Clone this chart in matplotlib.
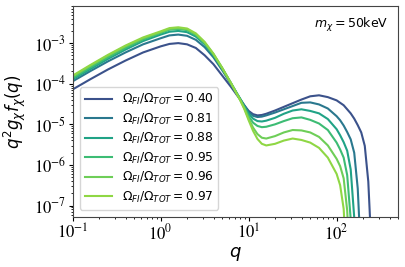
import numpy as np
import matplotlib
matplotlib.use("Agg")
import matplotlib.pyplot as plt
from matplotlib.ticker import LogLocator, NullFormatter

# log10(q) sampling grid
log_q = [-1.0, -0.8, -0.6, -0.4, -0.2, 0.0, 0.1, 0.2, 0.3, 0.4, 0.5, 0.6, 0.7,
         0.8, 0.9, 0.95, 1.0, 1.05, 1.1, 1.15, 1.2, 1.3, 1.4, 1.5, 1.6, 1.7,
         1.8, 1.9, 2.0, 2.04, 2.08, 2.12, 2.16, 2.2, 2.24, 2.28, 2.32, 2.36,
         2.40, 2.44]

# log10(q^2 g f) for each curve
log_f_040 = [-4.14, -3.89, -3.65, -3.43, -3.23, -3.08, -3.02, -3.00, -3.03, -3.12,
             -3.30, -3.52, -3.80, -4.08, -4.38, -4.53, -4.67, -4.75, -4.78, -4.77,
             -4.74, -4.66, -4.57, -4.48, -4.39, -4.31, -4.285, -4.33, -4.41, -4.47,
             -4.53, -4.63, -4.73, -4.86, -5.02, -5.20, -5.53, -6.41, -8.25, -10.0]
log_f_081 = [-3.94, -3.69, -3.45, -3.23, -3.03, -2.88, -2.81, -2.79, -2.82, -2.92,
             -3.10, -3.35, -3.67, -4.01, -4.36, -4.53, -4.70, -4.79, -4.82, -4.81,
             -4.78, -4.71, -4.63, -4.55, -4.47, -4.46, -4.51, -4.61, -4.80, -4.90,
             -5.03, -5.19, -5.37, -5.70, -6.58, -8.40, -10.0, -10.0, -10.0, -10.0]
log_f_088 = [-3.89, -3.64, -3.39, -3.16, -2.95, -2.79, -2.72, -2.70, -2.73, -2.84,
             -3.03, -3.30, -3.63, -3.99, -4.36, -4.55, -4.74, -4.86, -4.92, -4.93,
             -4.91, -4.84, -4.74, -4.66, -4.63, -4.67, -4.73, -4.87, -5.12, -5.27,
             -5.44, -5.65, -6.11, -7.29, -9.00, -10.0, -10.0, -10.0, -10.0, -10.0]
log_f_095 = [-3.86, -3.60, -3.35, -3.12, -2.91, -2.75, -2.67, -2.65, -2.68, -2.80,
             -3.00, -3.28, -3.62, -3.99, -4.37, -4.58, -4.80, -4.96, -5.04, -5.07,
             -5.06, -5.00, -4.92, -4.85, -4.83, -4.89, -4.98, -5.14, -5.45, -5.62,
             -5.82, -6.25, -7.33, -9.00, -10.0, -10.0, -10.0, -10.0, -10.0, -10.0]
log_f_096 = [-3.82, -3.56, -3.31, -3.08, -2.88, -2.73, -2.65, -2.63, -2.66, -2.78,
             -2.99, -3.27, -3.62, -3.99, -4.38, -4.60, -4.86, -5.08, -5.24, -5.33,
             -5.35, -5.29, -5.20, -5.14, -5.15, -5.20, -5.31, -5.52, -5.85, -6.03,
             -6.33, -7.12, -8.90, -10.0, -10.0, -10.0, -10.0, -10.0, -10.0, -10.0]
log_f_097 = [-3.80, -3.54, -3.29, -3.06, -2.86, -2.71, -2.63, -2.61, -2.64, -2.76,
             -2.97, -3.26, -3.61, -3.99, -4.39, -4.62, -4.90, -5.16, -5.36, -5.48,
             -5.52, -5.48, -5.40, -5.35, -5.385, -5.45, -5.58, -5.82, -6.22, -6.50,
             -7.08, -8.70, -10.0, -10.0, -10.0, -10.0, -10.0, -10.0, -10.0, -10.0]

omega_ratios = ['0.40', '0.81', '0.88', '0.95', '0.96', '0.97']
series = [log_f_040, log_f_081, log_f_088, log_f_095, log_f_096, log_f_097]
colors = ['#3b528b', '#2a788e', '#20a386', '#3dbc74', '#6ece58', '#8fd744']

x_ticks = [1e-1, 1e0, 1e1, 1e2]
x_labels = [r'$10^{-1}$', r'$10^{0}$', r'$10^{1}$', r'$10^{2}$']
y_ticks = [1e-7, 1e-6, 1e-5, 1e-4, 1e-3]
y_labels = [r'$10^{-7}$', r'$10^{-6}$', r'$10^{-5}$', r'$10^{-4}$', r'$10^{-3}$']

fig, ax = plt.subplots(figsize=(4.05, 2.67), dpi=100)
fig.subplots_adjust(left=0.1795, right=0.983, top=0.9775, bottom=0.187)

q = 10 ** np.array(log_q)
for ratio, vals, c in zip(omega_ratios, series, colors):
    ax.plot(q, 10 ** np.array(vals), color=c, lw=1.5,
            label=r'$\Omega_{FI}/\Omega_{TOT} = %s$' % ratio)

ax.set_xscale('log')
ax.set_yscale('log')
ax.set_xlim(0.1, 500)
ax.set_ylim(5.2e-8, 8.2e-3)

ax.set_xticks(x_ticks, x_labels, fontsize=12, math_fontfamily='stix')
ax.set_yticks(y_ticks, y_labels, fontsize=12, math_fontfamily='stix')
ax.xaxis.set_minor_locator(LogLocator(base=10, subs=np.arange(2, 10), numticks=20))
ax.yaxis.set_minor_locator(LogLocator(base=10, subs=np.arange(2, 10), numticks=20))
ax.xaxis.set_minor_formatter(NullFormatter())
ax.yaxis.set_minor_formatter(NullFormatter())
ax.tick_params(which='major', direction='out', length=2.6, width=0.8, pad=2)
ax.tick_params(which='minor', direction='out', length=1.5, width=0.6)

for sp in ax.spines.values():
    sp.set_color('#444444')
    sp.set_linewidth(0.8)

ax.set_xlabel(r'$q$', fontsize=13, labelpad=1)
ax.set_ylabel(r'$q^2 g_\chi f_\chi(q)$', fontsize=12, labelpad=4)
ax.text(0.97, 0.955, r'$m_\chi = 50\mathrm{keV}$', transform=ax.transAxes,
        ha='right', va='top', fontsize=9)
ax.legend(loc='lower left', fontsize=8.8, labelspacing=0.36,
          borderaxespad=0.6, handlelength=2.2)

fig.savefig('out.png', dpi=100)
